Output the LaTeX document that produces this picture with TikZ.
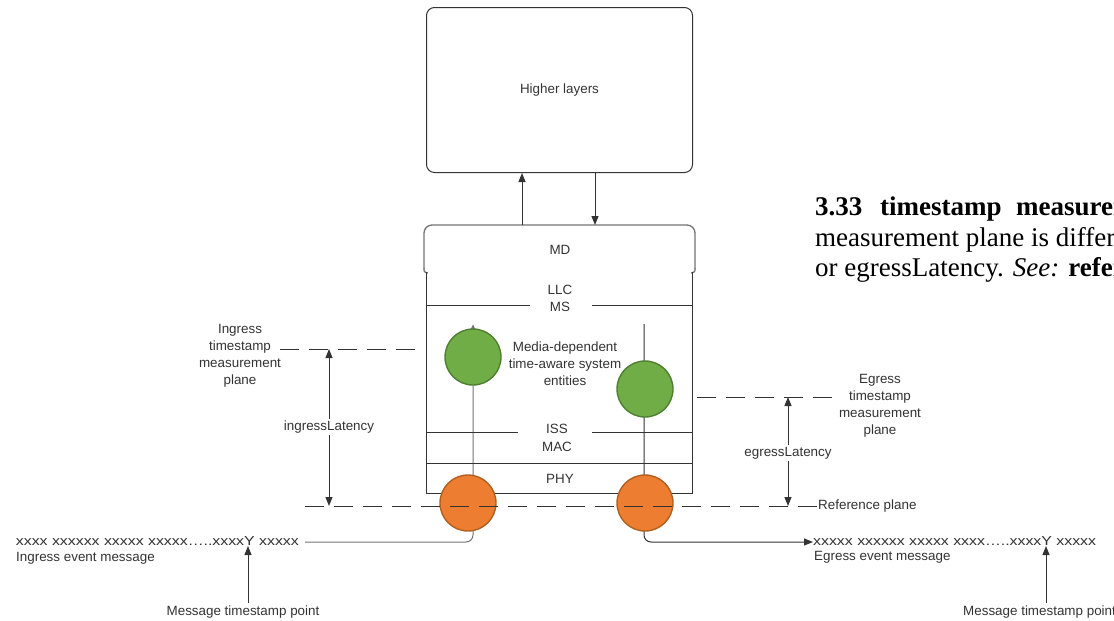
\documentclass[tikz,border=0pt]{standalone}
\usepackage{fontspec}
\setmainfont{Liberation Sans}
\newfontfamily\docserif{Liberation Serif}
\usetikzlibrary{arrows.meta}
\pgfdeclarelayer{back}
\pgfsetlayers{back,main}

\definecolor{inkc}{HTML}{333333}
\definecolor{greenf}{HTML}{70AD47}
\definecolor{greend}{HTML}{4F7F30}
\definecolor{orangef}{HTML}{ED7D31}
\definecolor{oranged}{HTML}{B0601F}

\begin{document}
\begin{tikzpicture}[x=1pt,y=-1pt,
  lbl/.style={font=\fontsize{13.4}{17}\selectfont, inner sep=0pt, text=inkc, align=center},
  wire/.style={draw=inkc, line width=1pt},
  arr/.style={wire, -{Triangle[length=9pt,width=7pt]}},
  darr/.style={wire, {Triangle[length=9pt,width=7pt]}-{Triangle[length=9pt,width=7pt]}},
  plane/.style={draw=inkc, line width=1pt, dash pattern=on 19pt off 10pt},
  gcirc/.style={circle, minimum size=56pt, inner sep=0pt, fill=greenf, draw=greend, line width=1.4pt},
  ocirc/.style={circle, minimum size=56pt, inner sep=0pt, fill=orangef, draw=oranged, line width=1.4pt},
  msg/.style={font=\fontsize{13}{15}\selectfont, inner sep=0pt, text=inkc, text height=6.7pt, text depth=0pt},
  doc/.style={font=\docserif\fontsize{27}{30}\selectfont, inner sep=0pt, anchor=base west}]
\useasboundingbox (0,0) rectangle (1114,621);
\clip (0,0) rectangle (1114,621);

% ---- higher layers ----
\node[draw=inkc, line width=1pt, rounded corners=8pt, minimum width=266pt, minimum height=165pt,
      anchor=north west] (hl) at (426,7) {};
\node[lbl] (hltext) at (hl.center) {Higher layers};

% ---- MD tab ----
\draw[draw=black!55, line width=1.3pt, rounded corners=8pt] (424,269) -- (424,225) -- (695,225) -- (695,269);
\draw[draw=black!55, line width=1.3pt] (424,268) .. controls (424,272) .. (428,273);
\draw[draw=black!55, line width=1.3pt] (695,268) .. controls (695,272) .. (691,273);
\coordinate (upA) at (522,225);
\coordinate (dnA) at (595,225);
\draw[arr] (upA) -- (upA |- hl.south);
\draw[arr] (dnA |- hl.south) -- (dnA);
\node[lbl] (md) at (560,250) {MD};

% ---- layer stack ----
\draw[wire] (426,272) |- (692,493) -- (692,272);
\draw[wire] (426,305) -- (530,305);
\draw[wire] (592,305) -- (692,305);
\draw[wire] (426,432) -- (518,432);
\draw[wire] (592,432) -- (692,432);
\draw[wire] (426,463) -- (692,463);
\node[lbl] (llc) at (560,290) {LLC};
\node[lbl] (ms)  at (560,307) {MS};
\node[lbl] (mdt) at (565,364) {Media-dependent\\time-aware system\\entities};
\node[lbl] (iss) at (557,429) {ISS};
\node[lbl] (mac) at (557,447) {MAC};
\node[lbl] (phy) at (560,479) {PHY};

% ---- time-aware entities ----
\node[gcirc] (gi) at (473,357) {};
\node[gcirc] (ge) at (645,389) {};
\node[ocirc] (oi) at (468,503) {};
\node[ocirc] (oe) at (645,503) {};

% ---- event messages ----
\node[msg, anchor=east] (inx) at (299,542) {\scalebox{1.22}[1]{xxxx xxxxxx xxxxx xxxxx…..xxxxY xxxxx}};
\node[lbl, anchor=north west] (inlab) at (16,552) {Ingress event message};
\node[msg, anchor=west] (egx) at (813,542) {\scalebox{1.22}[1]{xxxxx xxxxxx xxxxx xxxx…..xxxxY xxxxx}};
\node[lbl, anchor=north west] (eglab) at (814,551) {Egress event message};
\coordinate (etop) at (644,324);

\begin{pgfonlayer}{back}
  \draw[draw=black!55, line width=1pt, rounded corners=7pt, -{Triangle[length=6pt,width=5pt]}]
    ([xshift=6pt]inx.east) -| ([yshift=4pt]gi.north -| 473,0);
  \draw[wire, rounded corners=7pt, -{Triangle[length=9pt,width=7pt]}]
    (etop) |- (egx.west);
\end{pgfonlayer}

% ---- measurement planes ----
\node[lbl] (inplane) at (240,356) {Ingress\\timestamp\\measurement\\plane};
\node[lbl] (egplane) at (880,406) {Egress\\timestamp\\measurement\\plane};
\node[lbl, anchor=west] (refp) at (818,506) {Reference plane};
\draw[plane] (280,349) -- (418,349);
\draw[plane] (697,397) -- (836,397);
\draw[plane] (305,506) -- (refp.west);

\coordinate (inTop) at (329,349);
\coordinate (inBot) at (329,506);
\coordinate (egTop) at (788,397);
\coordinate (egBot) at (788,506);
\draw[darr] (inTop) -- (inBot);
\draw[darr] (egTop) -- (egBot);
\node[lbl, fill=white, inner sep=2pt] (inlat) at (329,427) {ingressLatency};
\node[lbl, fill=white, inner sep=2pt] (eglat) at (788,453) {egressLatency};

% ---- timestamp points ----
\node[lbl] (mtpA) at (243,612) {Message timestamp point};
\node[lbl, anchor=west] (mtpB) at (963,612) {Message timestamp point};
\coordinate (yA) at (248,546);
\coordinate (yB) at (1046,546);
\draw[arr] (mtpA.north -| yA) ++(0,-3) -- (yA);
\draw[arr] (mtpB.north -| yB) ++(0,-3) -- (yB);

% ---- definition text ----
\node[doc] (d1) at (815,215) {\bfseries 3.33};
\node[doc] (d2) at (880,215) {\bfseries timestamp};
\node[doc] (d3) at (1016,215) {\bfseries measurement};
\node[doc] (d4) at (815,246) {measurement plane is different};
\node[doc] (d5) at (815,276) {or egressLatency. \textit{See:} \textbf{reference}};
\end{tikzpicture}
\end{document}
